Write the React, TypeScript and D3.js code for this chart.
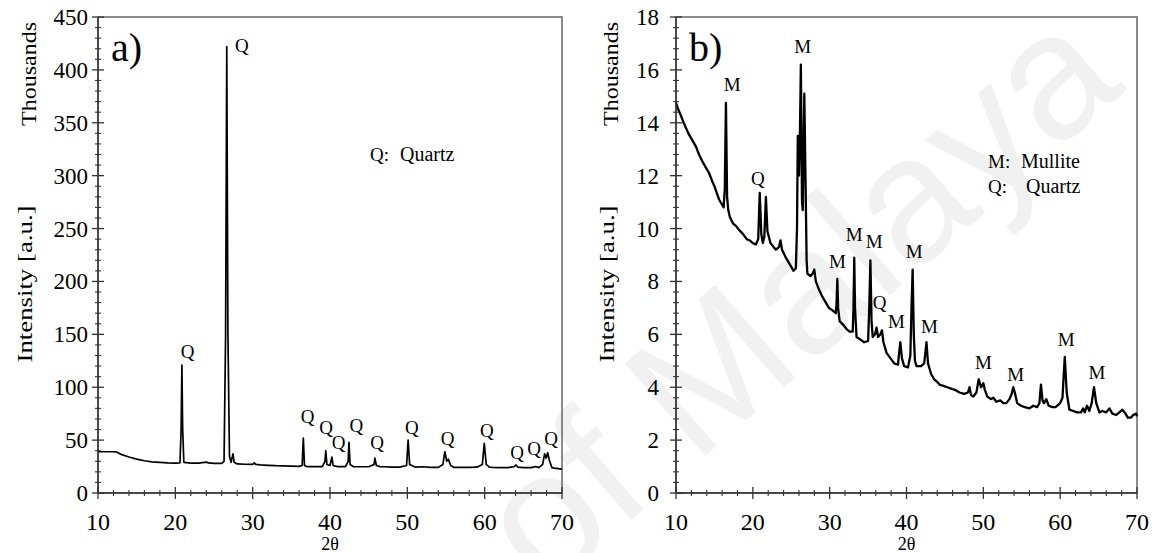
import React from "react";
import * as d3 from "d3";

// ---------- data (2θ in degrees, intensity in thousands) ----------
const quartzPattern: [number, number][] = [
  [10,39],[11,39],[12,39],[12.4,38.8],[13,36.5],[14,34],[15,32],[16,30.5],[17,29.5],[18,29],[19,28.5],[20,28.3],[20.6,28.5],[20.75,60],[20.85,121],[20.95,60],[21.1,29],[22,28.2],[23,28.3],[24,29.2],[24.3,28.4],[25,28],[26,28],[26.3,30],[26.5,150],[26.65,422],[26.8,150],[27,35],[27.2,29],[27.45,37],[27.6,29],[28,27.5],[29,27.2],[30,27],[30.2,28.5],[30.4,27],[31,26.5],[32,26.2],[33,25.8],[34,25.6],[35,25.4],[36,25.2],[36.4,26],[36.55,52],[36.7,26],[37,25],[38,25],[39,25],[39.35,30],[39.45,40],[39.6,27],[40,26],[40.25,34],[40.4,26],[41,25],[42,25],[42.35,30],[42.45,48],[42.6,27],[43,25],[44,24.8],[45,24.8],[45.7,27],[45.8,33],[46,26],[46.5,24.8],[47,24.8],[48,24.5],[49,24.5],[49.9,26],[50.1,50],[50.3,27],[51,24.5],[52,24.8],[53,24.3],[54,24.2],[54.6,27],[54.85,39],[55.1,30],[55.3,32],[55.6,26],[56,24.3],[57,24.2],[58,24.2],[59,24.4],[59.7,27],[59.95,47],[60.2,27],[60.6,24.5],[61,24.2],[62,24],[63,24],[63.8,25],[64.05,26.5],[64.3,24.5],[65,24],[66,24],[66.6,25],[67,24],[67.5,27],[67.75,37],[67.95,33],[68.15,38],[68.4,30],[68.7,24],[69,23.5],[70,22.5]
];

const mullitePattern: [number, number][] = [
  [10,14.75],[10.3,14.5],[10.6,14.3],[11,14.0],[11.3,13.8],[11.7,13.55],[12,13.4],[12.6,13.1],[13,12.8],[13.5,12.5],[14,12.25],[14.3,12.1],[14.7,11.8],[15,11.6],[15.3,11.35],[15.6,11.1],[16,10.9],[16.2,10.8],[16.35,11.5],[16.5,14.75],[16.65,11.2],[16.8,10.7],[17,10.45],[17.4,10.2],[17.8,10.1],[18.2,9.95],[18.7,9.8],[19.2,9.6],[19.6,9.55],[20,9.45],[20.4,9.4],[20.7,9.6],[20.9,11.35],[21.1,9.8],[21.3,9.45],[21.5,9.7],[21.7,11.2],[21.9,9.9],[22.3,9.45],[22.7,9.3],[23,9.2],[23.4,9.3],[23.6,9.55],[23.8,9.2],[24.3,8.9],[24.7,8.7],[25,8.55],[25.3,8.4],[25.6,8.5],[25.75,10],[25.85,13.5],[26.0,12],[26.15,14],[26.25,16.2],[26.4,11],[26.5,10.7],[26.6,13],[26.7,15.1],[26.85,12],[27.0,8.8],[27.1,8.3],[27.5,8.2],[27.8,8.3],[28.0,8.45],[28.2,8.0],[28.6,7.7],[29,7.45],[29.5,7.2],[29.9,7.0],[30.4,6.9],[30.8,6.8],[30.9,7.2],[31.0,8.1],[31.1,7.0],[31.3,6.5],[31.8,6.35],[32.2,6.2],[32.6,6.1],[33.0,6.1],[33.1,7],[33.2,8.9],[33.3,7],[33.5,5.9],[34,5.8],[34.5,5.7],[35,5.75],[35.15,7],[35.3,8.8],[35.45,6.5],[35.6,5.9],[35.9,6.0],[36.1,6.25],[36.3,5.9],[36.6,6.0],[36.8,6.15],[37.0,5.7],[37.4,5.3],[37.9,5.1],[38.4,4.9],[38.9,4.85],[39.0,5.2],[39.2,5.7],[39.4,5.1],[39.7,4.8],[40.2,4.75],[40.5,5.2],[40.65,7],[40.8,8.45],[40.95,6],[41.1,5],[41.3,4.8],[41.9,4.8],[42.3,4.9],[42.45,5.3],[42.6,5.7],[42.8,4.9],[43.2,4.5],[43.6,4.3],[44,4.2],[44.3,4.1],[44.8,4.05],[45.3,4.0],[45.8,3.95],[46.3,3.9],[46.9,3.8],[47.5,3.75],[48.0,3.8],[48.2,4.0],[48.4,3.7],[48.7,3.65],[49.1,3.8],[49.4,4.3],[49.7,4.0],[50.0,4.15],[50.2,3.9],[50.5,3.65],[51,3.55],[51.3,3.6],[51.7,3.45],[52.2,3.5],[52.6,3.4],[53,3.4],[53.4,3.55],[53.7,3.75],[53.9,4.0],[54.1,3.8],[54.4,3.4],[54.9,3.3],[55.4,3.25],[56,3.2],[56.5,3.3],[57,3.25],[57.3,3.4],[57.5,4.1],[57.7,3.5],[57.9,3.4],[58.2,3.55],[58.5,3.3],[59,3.25],[59.4,3.25],[60,3.4],[60.3,3.6],[60.6,5.15],[60.85,3.8],[61.2,3.15],[61.7,3.1],[62.2,3.05],[62.7,3.05],[63,3.2],[63.2,3.05],[63.5,3.3],[63.8,3.1],[64.1,3.4],[64.4,4.0],[64.7,3.4],[65.1,3.05],[65.5,3.1],[66,3.05],[66.4,3.2],[66.8,3.0],[67.3,2.95],[67.7,3.05],[68.1,3.15],[68.5,3.0],[68.8,2.85],[69.2,2.85],[69.5,2.95],[69.9,3.0],[70,2.9]
];

// peak labels: [text, 2θ, intensity at text baseline]
const quartzLabels: [string, number, number][] = [
  ["Q",28.6,417],["Q",21.6,128],["Q",37.1,66],["Q",39.5,56],["Q",41.1,41.6],["Q",43.4,57.7],["Q",46.1,41.6],["Q",50.6,56],["Q",55.2,45.4],["Q",60.3,53],["Q",64.2,32],["Q",66.4,36],["Q",68.6,45]
];
const mulliteLabels: [string, number, number][] = [
  ["M",17.3,15.2],["Q",20.65,11.65],["M",26.5,16.65],["M",31.0,8.5],["M",33.2,9.53],["M",35.8,9.27],["Q",36.5,6.96],["M",38.7,6.24],["M",41.0,8.89],["M",43.0,6.05],["M",50.0,4.69],["M",54.2,4.24],["M",60.8,5.56],["M",64.8,4.31]
];

const xTicks = [10, 20, 30, 40, 50, 60, 70];
const yTicksA = [0, 50, 100, 150, 200, 250, 300, 350, 400, 450];
const yTicksB = [0, 2, 4, 6, 8, 10, 12, 14, 16, 18];
// legend entries: [symbol, phase name]
const legendA: [string, string][] = [["Q:", "Quartz"]];
const legendB: [string, string][] = [["M:", "Mullite"], ["Q:", "Quartz"]];

const SERIF = "'Liberation Serif', 'Times New Roman', serif";

type PanelProps = {
  left: number; right: number; top: number; bottom: number;
  yMax: number; yTicks: number[]; yMinor: number;
  data: [number, number][]; labels: [string, number, number][];
  tag: string; legend: [string, string][]; legendX: number; legendY: number; legendNameX: number[];
  strokeW: number; ylabGap: number; titleX: number;
};

function Panel(p: PanelProps) {
  const x = d3.scaleLinear().domain([10, 70]).range([p.left, p.right]);
  const y = d3.scaleLinear().domain([0, p.yMax]).range([p.bottom, p.top]);
  const line = d3.line<[number, number]>().x(d => x(d[0])).y(d => y(d[1]));
  const xMinor = d3.range(10, 70.001, 2).filter(v => !xTicks.includes(v));
  const yMinor = d3.range(0, p.yMax + 1e-6, p.yMinor).filter(v => !p.yTicks.some(t => Math.abs(t - v) < 1e-6));
  const axisCol = "#333";
  const frameCol = "#666";
  return (
    <g>
      <rect x={p.left} y={p.top} width={p.right - p.left} height={p.bottom - p.top} fill="none" stroke={frameCol} strokeWidth={1.5} />
      <path d={line(p.data) || ""} fill="none" stroke="#000" strokeWidth={p.strokeW} strokeLinejoin="round" />
      <line x1={p.left} x2={p.left} y1={p.top} y2={p.bottom} stroke={axisCol} strokeWidth={1.5} />
      <line x1={p.left} x2={p.right} y1={p.bottom} y2={p.bottom} stroke={axisCol} strokeWidth={1.5} />
      {p.yTicks.map(t => (
        <g key={"yt" + t}>
          <line x1={p.left - 6} x2={p.left + 6} y1={y(t)} y2={y(t)} stroke={axisCol} strokeWidth={1.3} />
          <text x={p.left - p.ylabGap} y={y(t)} dy="0.35em" textAnchor="end" fontFamily={SERIF} fontSize={23}>{t}</text>
        </g>
      ))}
      {yMinor.map(t => (
        <line key={"ym" + t} x1={p.left - 3} x2={p.left + 3} y1={y(t)} y2={y(t)} stroke={axisCol} strokeWidth={1.1} />
      ))}
      {xTicks.map(t => (
        <g key={"xt" + t}>
          <line x1={x(t)} x2={x(t)} y1={p.bottom - 6} y2={p.bottom + 6} stroke={axisCol} strokeWidth={1.3} />
          <text x={x(t)} y={p.bottom + 37} textAnchor="middle" fontFamily={SERIF} fontSize={24}>{t}</text>
        </g>
      ))}
      {xMinor.map(t => (
        <line key={"xm" + t} x1={x(t)} x2={x(t)} y1={p.bottom - 3} y2={p.bottom + 3} stroke={axisCol} strokeWidth={1.1} />
      ))}
      <text x={(p.left + p.right) / 2} y={549.5} textAnchor="middle" fontFamily={SERIF} fontSize={18}>2θ</text>
      <text transform={`translate(${p.titleX},${(p.top + p.bottom) / 2 + 29}) rotate(-90)`} textAnchor="middle" fontFamily={SERIF} fontSize={22} textLength={157} lengthAdjust="spacingAndGlyphs">Intensity  [a.u.]</text>
      <text transform={`translate(${p.titleX + 4},${p.top + 57}) rotate(-90)`} textAnchor="middle" fontFamily={SERIF} fontSize={21} textLength={104} lengthAdjust="spacingAndGlyphs">Thousands</text>
      <text x={p.left + 13} y={p.top + 44} fontFamily={SERIF} fontSize={40}>{p.tag}</text>
      {p.legend.map((s, i) => (
        <g key={s[1]}>
          <text x={p.legendX} y={p.legendY + i * 25} fontFamily={SERIF} fontSize={19}>{s[0]}</text>
          <text x={p.legendNameX[i]} y={p.legendY + i * 25} fontFamily={SERIF} fontSize={20}>{s[1]}</text>
        </g>
      ))}
      {p.labels.map((l, i) => (
        <text key={"pl" + i} x={x(l[1])} y={y(l[2])} textAnchor="middle" fontFamily={SERIF} fontSize={19}>{l[0]}</text>
      ))}
    </g>
  );
}

export default function App() {
  return (
    <svg width={1160} height={553} style={{ position: "absolute", left: 0, top: 0, background: "#fff" }}>
      <rect width={1160} height={553} fill="#fff" />
      <text transform="translate(545,595) rotate(-41)" fontFamily="'Liberation Sans', Arial, sans-serif" fontSize={178} fill="#f1f1f1">of Malaya</text>
      <Panel left={98} right={562} top={17} bottom={493} yMax={450} yTicks={yTicksA} yMinor={10}
        data={quartzPattern} labels={quartzLabels} tag="a)" legend={legendA} legendX={370} legendY={161} legendNameX={[400]}
        strokeW={1.7} ylabGap={10} titleX={32} />
      <Panel left={676} right={1137} top={17} bottom={493} yMax={18} yTicks={yTicksB} yMinor={0.4}
        data={mullitePattern} labels={mulliteLabels} tag="b)" legend={legendB} legendX={988} legendY={168} legendNameX={[1021, 1026]}
        strokeW={2.3} ylabGap={17} titleX={614} />
    </svg>
  );
}
